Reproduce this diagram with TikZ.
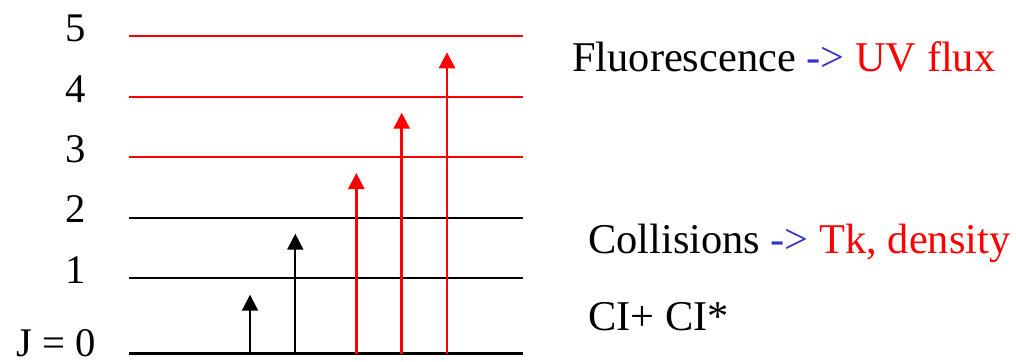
\documentclass[tikz,border=0pt]{standalone}
\usepackage{fontspec}
\setmainfont{Liberation Serif}
\usepackage{xcolor}
\usetikzlibrary{arrows.meta,calc}
\definecolor{ink}{RGB}{0,0,0}
\definecolor{hotred}{RGB}{255,0,0}
\definecolor{arrowblue}{RGB}{51,51,204}
\tikzset{
  level/.style={line width=1.6pt,draw=ink},
  hilevel/.style={line width=1.6pt,draw=hotred},
  pump/.style={-{Triangle[length=12pt,width=12pt]},line width=1.5pt,draw=ink},
  hipump/.style={-{Triangle[length=12pt,width=12pt]},line width=2pt,draw=hotred,color=hotred},
  jlabel/.style={anchor=base,inner sep=0pt,font=\fontsize{30.5}{34}\selectfont},
  note/.style={anchor=base west,inner sep=0pt,font=\fontsize{31.8}{36}\selectfont}
}
\begin{document}
\begin{tikzpicture}[x=0.75pt,y=-0.75pt]
  \useasboundingbox (0,0) rectangle (1016,361);
  % energy levels
  \coordinate (L0) at (129,353.5); \coordinate (L0e) at (523,353.5);
  \coordinate (L1) at (129,278);   \coordinate (L1e) at (523,278);
  \coordinate (L2) at (129,217.7); \coordinate (L2e) at (523,217.7);
  \coordinate (L3) at (129,157);   \coordinate (L3e) at (523,157);
  \coordinate (L4) at (129,96.7);  \coordinate (L4e) at (523,96.7);
  \coordinate (L5) at (129,36);    \coordinate (L5e) at (523,36);
  \draw[level] (L0)--(L0e); \draw[level,line width=1.9pt] (L1)--(L1e); \draw[level] (L2)--(L2e);
  \draw[hilevel,line width=2pt] (L3)--(L3e); \draw[hilevel,line width=1.4pt] (L4)--(L4e); \draw[hilevel,line width=2.1pt] (L5)--(L5e);
  % level labels
  \node[jlabel] (j5) at (76,41.7) {5};
  \node[jlabel] (j4) at (76,102.3) {4};
  \node[jlabel] (j3) at (76,162.5) {3};
  \node[jlabel] (j2) at (76,222.8) {2};
  \node[jlabel] (j1) at (76,283) {1};
  \node[jlabel,anchor=base east,text depth=0pt] (j0) at (96,356.5) {J = 0};
  % excitation arrows
  \coordinate (a1) at (250,294.7); \coordinate (a2) at (295.3,233.7);
  \coordinate (a3) at (356.3,173); \coordinate (a4) at (401.7,112.7); \coordinate (a5) at (447,52.3);
  \draw[pump] (a1 |- L0)--(a1); \draw[pump] (a2 |- L0)--(a2);
  \draw[hipump] (a3 |- L0)--(a3); \draw[hipump] (a4 |- L0)--(a4); \draw[hipump] (a5 |- L0)--(a5);
  % notes
  \node[note] (fluor) at (572,71.7) {Fluorescence \textcolor{arrowblue}{->} \textcolor{hotred}{UV flux}};
  \node[note] (coll) at (588,253) {Collisions \textcolor{arrowblue}{->} \textcolor{hotred}{Tk, density}};
  \node[note] (ci) at (588,330) {CI+ CI*};
\end{tikzpicture}
\end{document}
